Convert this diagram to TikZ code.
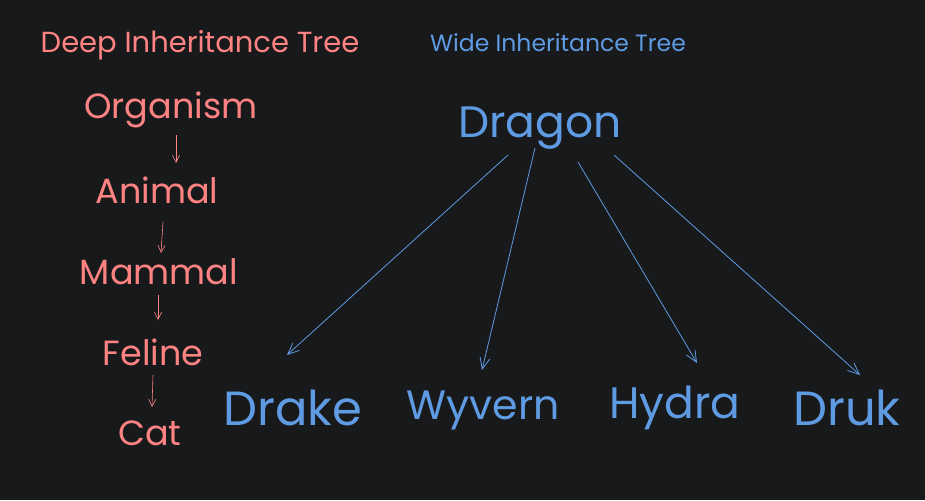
\documentclass[tikz,border=0pt]{standalone}
\usepackage{fontspec}
\setmainfont{Poppins}
\usetikzlibrary{arrows.meta}
\definecolor{bgdark}{HTML}{18191B}
\definecolor{deepred}{HTML}{FF8383}
\definecolor{wideblue}{HTML}{5F9BE3}

\begin{document}
\begin{tikzpicture}[
  x=1pt, y=-1pt,
  deep/.style={text=deepred, inner sep=0pt, font=\fontsize{35}{35}\selectfont},
  wide/.style={text=wideblue, inner sep=0pt, font=\fontsize{#1}{#1}\selectfont},
  wide/.default=44,
  heading/.style={inner sep=0pt, font=\fontsize{#1}{#1}\selectfont},
  redarr/.style={-{Straight Barb[length=2.5mm,width=2.5mm]}, deepred, line width=0.6pt},
  bluearr/.style={-{Straight Barb[length=4mm,width=3.5mm]}, wideblue, line width=0.8pt}
]
\fill[bgdark] (0,0) rectangle (925,500);

\node[heading=29, text=deepred] (deeptitle) at (200,45) {Deep Inheritance Tree};
\node[heading=23.5, text=wideblue] (widetitle) at (558,43) {Wide Inheritance Tree};

\node[deep] (organism) at (171,110) {Organism};
\node[deep] (animal) at (157,190) {Animal};
\node[deep] (mammal) at (159,272) {Mammal};
\node[deep] (feline) at (153,352) {Feline};
\node[deep] (cat) at (150,433) {Cat};

\node[wide] (dragon) at (540,128) {Dragon};
\node[wide=48] (drake) at (293,408) {Drake};
\node[wide=41] (wyvern) at (483,410) {Wyvern};
\node[wide] (hydra) at (675,408) {Hydra};
\node[wide=48] (druk) at (847,408) {Druk};

\draw[redarr] ([shift={(5,25)}]organism.center) -- ([shift={(19,-27)}]animal.center);
\draw[redarr] ([shift={(6,32)}]animal.center) -- ([shift={(2,-19)}]mammal.center);
\draw[redarr] ([shift={(-1,23)}]mammal.center) -- ([shift={(5,-32)}]feline.center);
\draw[redarr] ([shift={(0,23)}]feline.center) -- ([shift={(2,-26)}]cat.center);

\draw[bluearr] ([shift={(-32,27)}]dragon.center) -- ([shift={(-6,-53)}]drake.center);
\draw[bluearr] ([shift={(-5,20)}]dragon.center) -- ([shift={(-1,-40)}]wyvern.center);
\draw[bluearr] ([shift={(38,34)}]dragon.center) -- ([shift={(22,-45)}]hydra.center);
\draw[bluearr] ([shift={(74,27)}]dragon.center) -- ([shift={(13,-33)}]druk.center);
\end{tikzpicture}
\end{document}
